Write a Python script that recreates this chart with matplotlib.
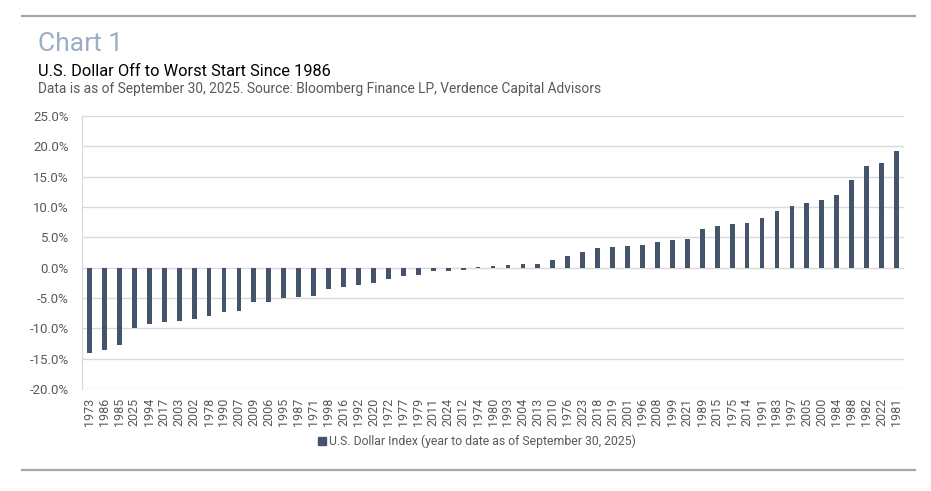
import matplotlib.pyplot as plt
from matplotlib.lines import Line2D
from matplotlib.patches import Rectangle
from matplotlib.ticker import FuncFormatter, MultipleLocator

plt.rcParams['font.family'] = ['Roboto', 'DejaVu Sans']

# Dollar index YTD return through Sep 30 for each year, sorted
years = ['1973', '1986', '1985', '2025', '1994', '2017', '2003', '2002', '1978', '1990',
         '2007', '2009', '2006', '1995', '1987', '1971', '1998', '2016', '1992', '2020',
         '1972', '1977', '1979', '2011', '2024', '2012', '1974', '1980', '1993', '2004',
         '2013', '2010', '1976', '2023', '2018', '2019', '2001', '1996', '2008', '1999',
         '2021', '1989', '2015', '1975', '2014', '1991', '1983', '1997', '2005', '2000',
         '1984', '1988', '1982', '2022', '1981']
ytd = [-14.0, -13.6, -12.8, -10.0, -9.2, -8.9, -8.8, -8.4, -7.9, -7.3,
       -7.1, -5.7, -5.6, -5.0, -4.8, -4.7, -3.5, -3.2, -2.9, -2.6,
       -1.8, -1.3, -1.2, -0.6, -0.5, -0.3, 0.1, 0.2, 0.5, 0.6,
       0.6, 1.2, 2.0, 2.6, 3.3, 3.4, 3.5, 3.8, 4.3, 4.6,
       4.8, 6.4, 6.8, 7.2, 7.4, 8.2, 9.4, 10.2, 10.7, 11.2,
       12.0, 14.4, 16.7, 17.2, 19.2]

bar_color = '#44546A'
grey_txt = '#595959'

fig = plt.figure(figsize=(9.31, 4.91), dpi=100)
ax = fig.add_axes([0.0881, 0.2077, 0.8829, 0.556])

x = range(len(years))
ax.bar(x, ytd, width=0.32, color=bar_color, zorder=3)

ax.set_ylim(-20, 25)
ax.set_xlim(-0.5, len(years) - 0.5)
ax.yaxis.set_major_locator(MultipleLocator(5))
ax.yaxis.set_major_formatter(FuncFormatter(lambda v, p: f'{v:.1f}%'))
ax.grid(axis='y', color='#D9D9D9', linewidth=1, zorder=0)
ax.set_xticks(list(x))
ax.set_xticklabels(years, rotation=90)
ax.tick_params(axis='both', length=0, labelcolor=grey_txt)
ax.tick_params(axis='y', pad=9.5, labelsize=9.5)
ax.tick_params(axis='x', pad=6.5, labelsize=9)
for s in ['top', 'right', 'bottom']:
    ax.spines[s].set_visible(False)
ax.spines['left'].set_color('#D9D9D9')

# header text
fig.text(38 / 931, 1 - 44 / 491, 'Chart 1', fontsize=19, color='#9CADC8', va='center')
fig.text(38 / 931, 1 - 71 / 491, 'U.S. Dollar Off to Worst Start Since 1986',
         fontsize=11.8, color='black', va='center')
fig.text(38 / 931, 1 - 89 / 491,
         'Data is as of September 30, 2025. Source: Bloomberg Finance LP, Verdence Capital Advisors',
         fontsize=9.9, color=grey_txt, va='center')

# legend
fig.patches.append(Rectangle((318 / 931, 1 - 445 / 491), 8 / 931, 8 / 491,
                             transform=fig.transFigure, color=bar_color))
fig.text(329 / 931, 1 - 441 / 491, 'U.S. Dollar Index (year to date as of September 30, 2025)',
         fontsize=8.8, color=grey_txt, va='center')

# rules top and bottom
for yy in [16, 470]:
    fig.add_artist(Line2D([22 / 931, 915 / 931], [1 - yy / 491, 1 - yy / 491],
                          color='#A6A6A6', linewidth=1.6, transform=fig.transFigure))

fig.savefig('out.png', dpi=100)
